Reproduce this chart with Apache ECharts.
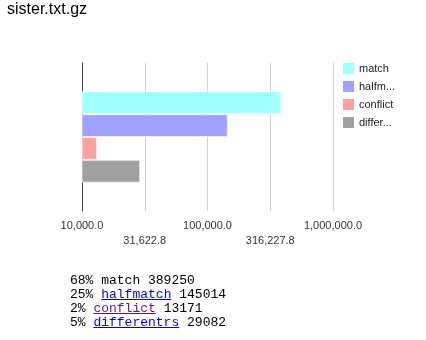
<!DOCTYPE html>
<html>
<head>
<meta charset="utf-8">
<script src="https://cdn.jsdelivr.net/npm/echarts@6/dist/echarts.min.js"></script>
<style>
  html, body { margin: 0; padding: 0; background: #fff; }
  #chart { position: absolute; left: 0; top: 0; width: 426px; height: 340px; }
  #summary { position: absolute; left: 70px; top: 274px; margin: 0;
    font-family: "Liberation Mono", "DejaVu Sans Mono", monospace; font-size: 13px; line-height: 14px; color: #000; }
  #summary a { color: #0000ee; text-decoration: underline; }
  #summary a.visited { color: #551a8b; }
</style>
</head>
<body>
<div id="chart"></div>
<pre id="summary"></pre>
<script>
const title = 'sister.txt.gz';
const seriesNames = ['match', 'halfmatch', 'conflict', 'differentrs'];
const seriesValues = [389250, 145014, 13171, 29082];
const seriesColors = ['#a0ffff', '#a0a0ff', '#ffa0a0', '#a0a0a0'];
const linked = [false, true, true, true];
const visited = [false, false, true, false];
const axisMin = 10000;
const axisMax = 1000000;

function fmt(v) {
  const s = (Math.round(v * 10) / 10).toFixed(1);
  const parts = s.split('.');
  parts[0] = parts[0].replace(/\B(?=(\d{3})+(?!\d))/g, ',');
  return parts.join('.');
}

const chart = echarts.init(document.getElementById('chart'), null, { renderer: 'canvas' });
chart.setOption({
  animation: false,
  title: {
    text: title, left: 7, top: 2, padding: 0,
    textStyle: { fontFamily: 'Liberation Sans, Arial', fontSize: 16, fontWeight: 'normal', color: '#000' }
  },
  grid: { left: 82, right: 93, top: 63, bottom: 129, containLabel: false },
  legend: {
    orient: 'vertical', left: 343, top: 63, padding: 0,
    itemWidth: 11, itemHeight: 11, itemGap: 7,
    icon: 'rect',
    itemStyle: { borderWidth: 0 },
    textStyle: { fontFamily: 'Liberation Sans, Arial', fontSize: 11, color: '#222', width: 40, overflow: 'truncate', ellipsis: '...' },
    data: seriesNames
  },
  xAxis: {
    type: 'log', logBase: Math.sqrt(10), min: axisMin, max: axisMax, splitNumber: 4,
    axisLine: { show: false }, axisTick: { show: false },
    splitLine: { show: true, lineStyle: { color: '#d0d0d0', width: 1 } },
    axisLabel: {
      margin: 7, fontFamily: 'Liberation Sans, Arial', fontSize: 11, color: '#333', lineHeight: 15,
      showMinLabel: true, showMaxLabel: true,
      formatter: function (v, i) { return (i % 2 ? '\n' : '') + fmt(v); }
    }
  },
  yAxis: {
    type: 'category', data: [''],
    axisLine: { show: true, lineStyle: { color: '#444', width: 1 } },
    axisTick: { show: false }, axisLabel: { show: false }, splitLine: { show: false }
  },
  series: seriesNames.map((n, i) => ({
    name: n, type: 'bar', data: [seriesValues[i]],
    barCategoryGap: '38.3%', barGap: '0%',
    itemStyle: { color: seriesColors[i], borderColor: 'rgba(255,255,255,0.6)', borderWidth: 1 },
    emphasis: { disabled: true }
  }))
});

const total = seriesValues.reduce((a, b) => a + b, 0);
const pre = document.getElementById('summary');
pre.innerHTML = seriesNames.map((n, i) => {
  const pct = Math.round(seriesValues[i] / total * 100) + '% ';
  const name = linked[i] ? '<a href="#"' + (visited[i] ? ' class="visited"' : '') + '>' + n + '</a>' : n;
  return pct + name + ' ' + seriesValues[i];
}).join('\n');
</script>
</body>
</html>
